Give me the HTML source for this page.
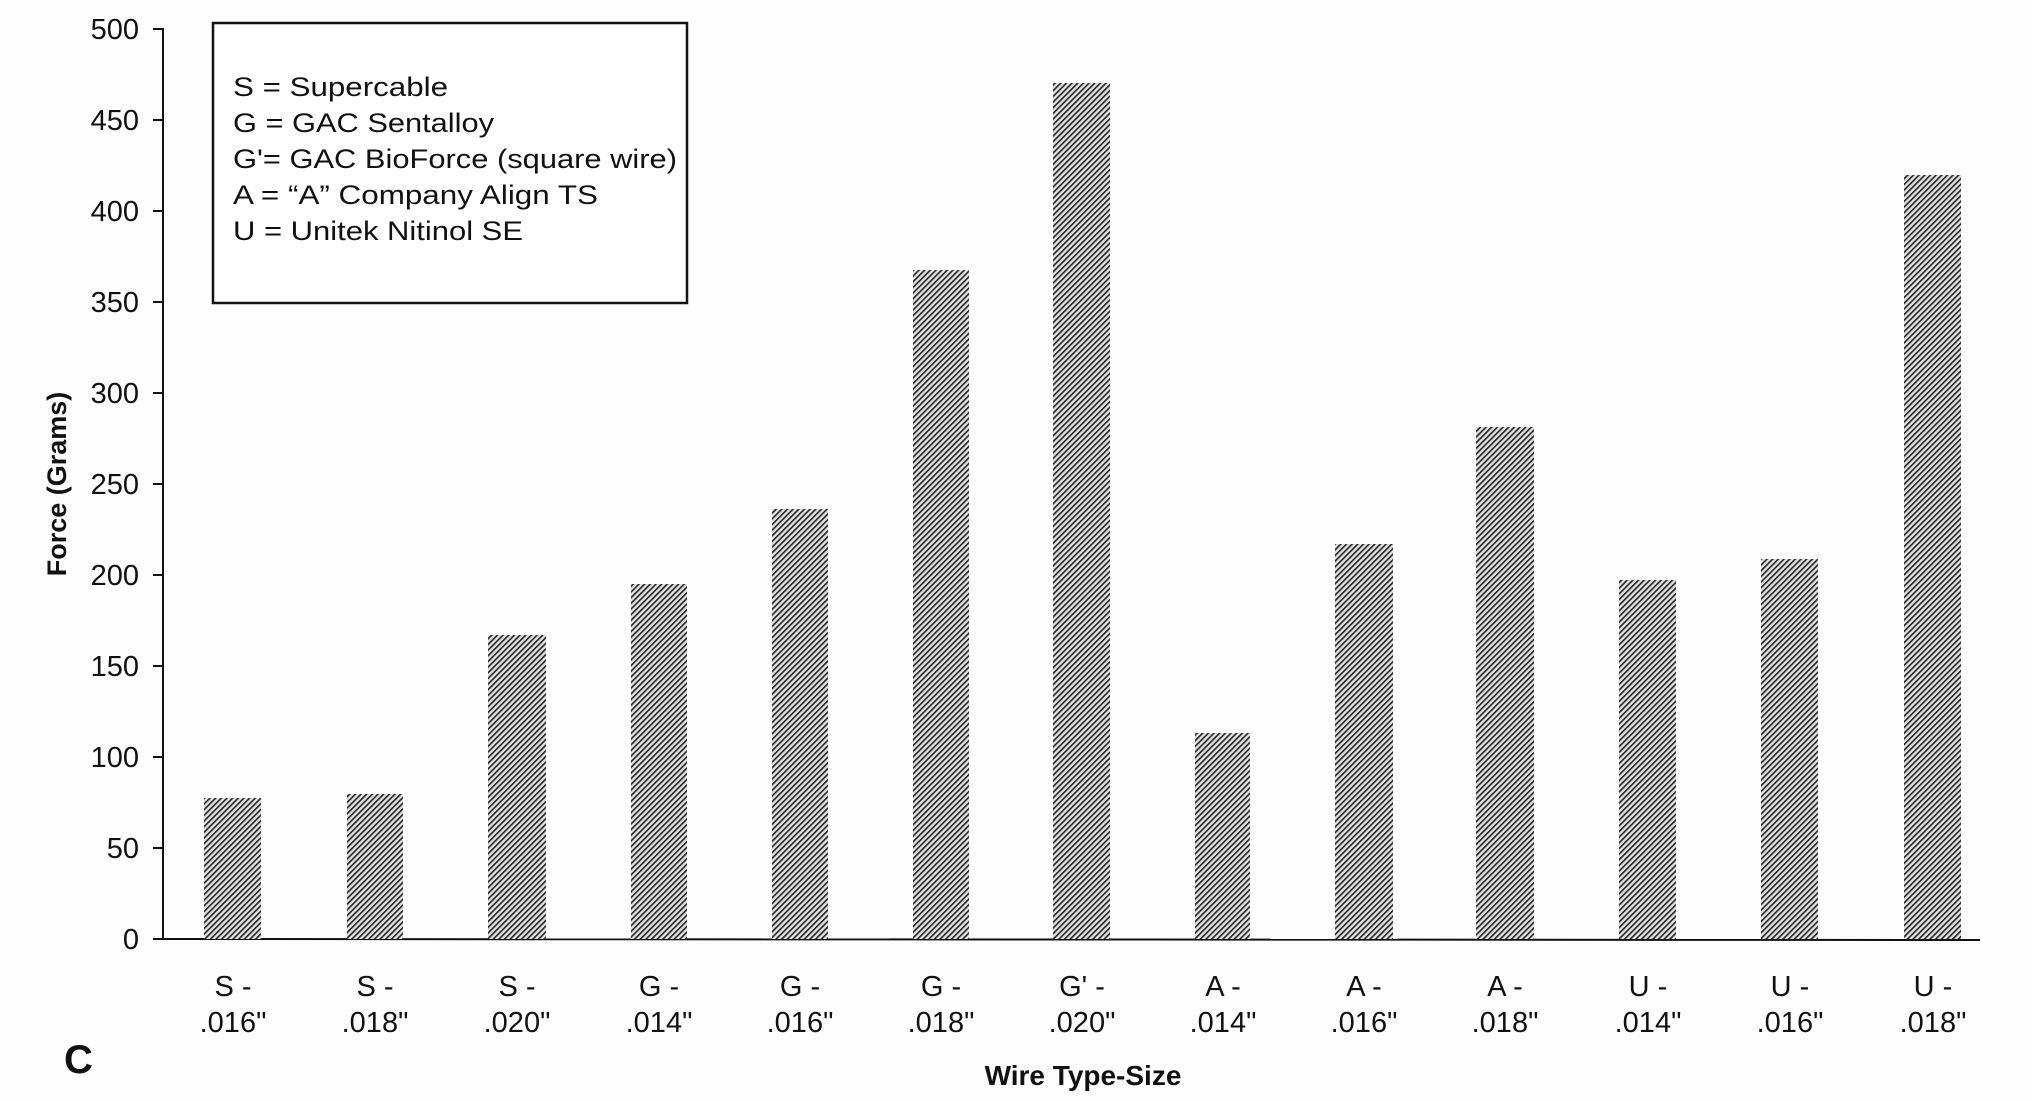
<!DOCTYPE html>
<html><head><meta charset="utf-8"><style>
html,body{margin:0;padding:0;background:#fff;}
svg{display:block;font-family:"Liberation Sans",Arial,sans-serif;}
</style></head><body>
<svg width="2031" height="1101" viewBox="0 0 2031 1101" xmlns="http://www.w3.org/2000/svg">
<defs>
<pattern id="h" patternUnits="userSpaceOnUse" width="4" height="4" patternTransform="rotate(45)">
<rect width="4" height="4" fill="#e4e4e4"/>
<rect width="1.7" height="4" fill="#2a2a2a"/>
</pattern>
</defs>
<rect width="2031" height="1101" fill="#fdfdfd"/>
<line x1="163" y1="28" x2="163" y2="940" stroke="#111" stroke-width="2"/>
<line x1="163" y1="939" x2="1980" y2="940" stroke="#111" stroke-width="2"/>
<g stroke="#111" stroke-width="2">
<line x1="153" y1="939" x2="163" y2="939"/>
<line x1="153" y1="848" x2="163" y2="848"/>
<line x1="153" y1="757" x2="163" y2="757"/>
<line x1="153" y1="666" x2="163" y2="666"/>
<line x1="153" y1="575" x2="163" y2="575"/>
<line x1="153" y1="484" x2="163" y2="484"/>
<line x1="153" y1="393" x2="163" y2="393"/>
<line x1="153" y1="302" x2="163" y2="302"/>
<line x1="153" y1="211" x2="163" y2="211"/>
<line x1="153" y1="120" x2="163" y2="120"/>
<line x1="153" y1="29" x2="163" y2="29"/>
</g>
<g font-size="29" fill="#111" text-anchor="end">
<text x="139" y="949">0</text>
<text x="139" y="858">50</text>
<text x="139" y="767">100</text>
<text x="139" y="676">150</text>
<text x="139" y="585">200</text>
<text x="139" y="494">250</text>
<text x="139" y="403">300</text>
<text x="139" y="312">350</text>
<text x="139" y="221">400</text>
<text x="139" y="130">450</text>
<text x="139" y="39">500</text>
</g>
<text transform="translate(66,484) rotate(-90)" font-size="27" font-weight="bold" text-anchor="middle" fill="#111">Force (Grams)</text>
<g fill="url(#h)">
<rect x="204" y="798" width="57" height="141"/>
<rect x="347" y="794" width="56" height="145"/>
<rect x="488" y="635" width="58" height="304"/>
<rect x="631" y="584" width="56" height="355"/>
<rect x="772" y="509" width="56" height="430"/>
<rect x="913" y="270" width="56" height="669"/>
<rect x="1053" y="83" width="57" height="856"/>
<rect x="1195" y="733" width="55" height="206"/>
<rect x="1335" y="544" width="58" height="395"/>
<rect x="1476" y="427" width="58" height="512"/>
<rect x="1619" y="580" width="57" height="359"/>
<rect x="1761" y="559" width="57" height="380"/>
<rect x="1904" y="175" width="57" height="764"/>
</g>
<rect x="213" y="23" width="474" height="280" fill="#fff" stroke="#111" stroke-width="2.5"/>
<g font-size="27" fill="#111">
<text x="233" y="96" textLength="215" lengthAdjust="spacingAndGlyphs">S = Supercable</text>
<text x="233" y="132" textLength="261" lengthAdjust="spacingAndGlyphs">G = GAC Sentalloy</text>
<text x="233" y="168" textLength="444" lengthAdjust="spacingAndGlyphs">G'= GAC BioForce (square wire)</text>
<text x="233" y="204" textLength="365" lengthAdjust="spacingAndGlyphs">A = “A” Company Align TS</text>
<text x="233" y="240" textLength="290" lengthAdjust="spacingAndGlyphs">U = Unitek Nitinol SE</text>
</g>
<g font-size="29" fill="#111" text-anchor="middle">
<text x="233" y="996">S -</text><text x="233" y="1032">.016"</text>
<text x="375" y="996">S -</text><text x="375" y="1032">.018"</text>
<text x="517" y="996">S -</text><text x="517" y="1032">.020"</text>
<text x="659" y="996">G -</text><text x="659" y="1032">.014"</text>
<text x="800" y="996">G -</text><text x="800" y="1032">.016"</text>
<text x="941" y="996">G -</text><text x="941" y="1032">.018"</text>
<text x="1082" y="996">G' -</text><text x="1082" y="1032">.020"</text>
<text x="1223" y="996">A -</text><text x="1223" y="1032">.014"</text>
<text x="1364" y="996">A -</text><text x="1364" y="1032">.016"</text>
<text x="1505" y="996">A -</text><text x="1505" y="1032">.018"</text>
<text x="1648" y="996">U -</text><text x="1648" y="1032">.014"</text>
<text x="1790" y="996">U -</text><text x="1790" y="1032">.016"</text>
<text x="1933" y="996">U -</text><text x="1933" y="1032">.018"</text>
</g>
<text x="1083" y="1085" font-size="28" font-weight="bold" text-anchor="middle" fill="#111">Wire Type-Size</text>
<text x="64" y="1073" font-size="40" font-weight="bold" fill="#111">C</text>
</svg>
</body></html>
